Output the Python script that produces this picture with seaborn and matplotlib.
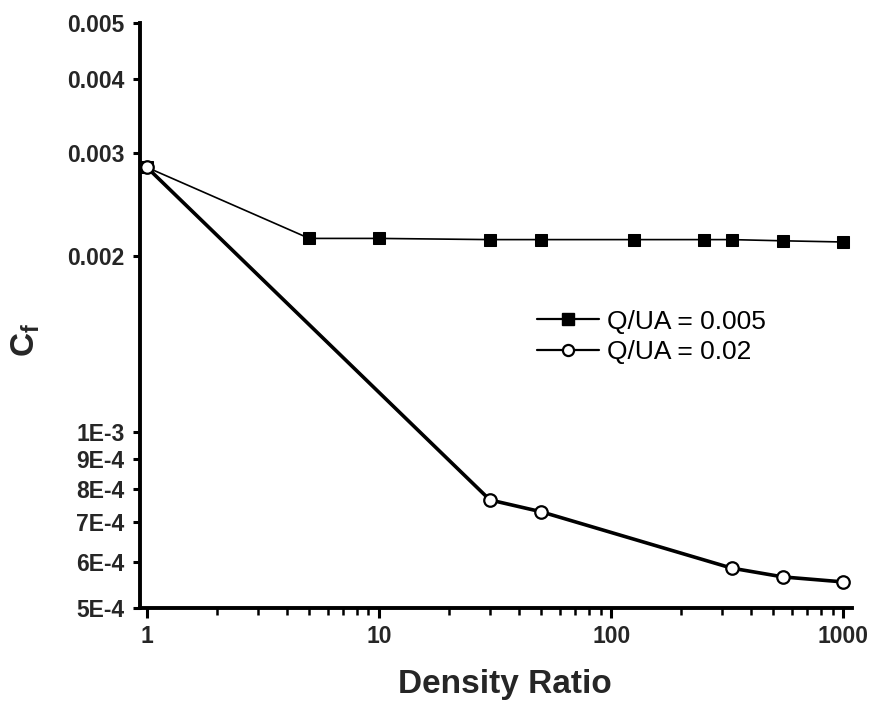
import numpy as np
import pandas as pd
import seaborn as sns
import matplotlib
matplotlib.use("Agg")
import matplotlib.pyplot as plt
from matplotlib.lines import Line2D
from matplotlib.ticker import FixedLocator, FixedFormatter, NullLocator, NullFormatter

# ---- data ----
x_low = [1, 5, 10, 30, 50, 125, 250, 330, 550, 1000]
cf_low = [0.00283, 0.00214, 0.00214, 0.00213, 0.00213, 0.00213, 0.00213, 0.00213, 0.00212, 0.00211]
x_high = [1, 30, 50, 330, 550, 1000]
cf_high = [0.00283, 7.65e-4, 7.3e-4, 5.85e-4, 5.65e-4, 5.54e-4]
series_labels = ["Q/UA = 0.005", "Q/UA = 0.02"]

y_ticks = [5e-4, 6e-4, 7e-4, 8e-4, 9e-4, 1e-3, 2e-3, 3e-3, 4e-3, 5e-3]
y_tick_labels = ["5E-4", "6E-4", "7E-4", "8E-4", "9E-4", "1E-3", "0.002", "0.003", "0.004", "0.005"]
x_ticks = [1, 10, 100, 1000]
x_tick_labels = ["1", "10", "100", "1000"]
x_minor = [m * d for d in (1, 10, 100) for m in range(2, 10)]

sns.set_theme(style="ticks")
plt.rcParams["font.family"] = ["Liberation Sans", "DejaVu Sans"]
plt.rcParams["mathtext.fontset"] = "custom"
plt.rcParams["mathtext.rm"] = "Liberation Sans:bold"
plt.rcParams["mathtext.it"] = "Liberation Sans:bold"
plt.rcParams["mathtext.bf"] = "Liberation Sans:bold"

fig = plt.figure(figsize=(8.74, 7.08), dpi=100)
ax = fig.add_axes([140 / 874, 100 / 708, 712 / 874, 585.3 / 708])

df_low = pd.DataFrame({"x": x_low, "cf": cf_low})
df_high = pd.DataFrame({"x": x_high, "cf": cf_high})

sns.lineplot(data=df_low, x="x", y="cf", ax=ax, color="black", linewidth=1.2,
             marker="s", markersize=8, markerfacecolor="black", markeredgecolor="black",
             sort=False, estimator=None, zorder=3)
sns.lineplot(data=df_high, x="x", y="cf", ax=ax, color="black", linewidth=2.6,
             marker="o", markersize=9, markerfacecolor="white", markeredgecolor="black",
             markeredgewidth=1.6, sort=False, estimator=None, zorder=4)

ax.set_xscale("log")
ax.set_yscale("log")
ax.set_xlim(10 ** (-7 / 232), 1090)
ax.set_ylim(5e-4, 5e-3)

ax.yaxis.set_major_locator(FixedLocator(y_ticks))
ax.yaxis.set_major_formatter(FixedFormatter(y_tick_labels))
ax.yaxis.set_minor_locator(NullLocator())
ax.xaxis.set_major_locator(FixedLocator(x_ticks))
ax.xaxis.set_major_formatter(FixedFormatter(x_tick_labels))
ax.xaxis.set_minor_locator(FixedLocator(x_minor))
ax.xaxis.set_minor_formatter(NullFormatter())

for lab in ax.get_xticklabels() + ax.get_yticklabels():
    lab.set_fontweight("bold")
    lab.set_fontsize(16.5)
ax.tick_params(axis="y", which="major", direction="out", length=5, width=2.2, color="black", pad=6)
ax.tick_params(axis="x", which="major", direction="out", length=7, width=2.2, color="black", pad=5)
ax.tick_params(axis="x", which="minor", direction="out", length=5, width=1.8, color="black")

sns.despine(ax=ax)
for s in ("left", "bottom"):
    ax.spines[s].set_linewidth(2.8)
    ax.spines[s].set_color("black")

ax.set_xlabel("Density Ratio", fontsize=24, fontweight="bold")
ax.set_ylabel(r"$C_f$", fontsize=24)
ax.xaxis.set_label_coords(0.513, -0.105)
ax.yaxis.set_label_coords(-0.137, 0.458)

handles = [
    Line2D([], [], color="black", linewidth=1.6, marker="s", markersize=8,
           markerfacecolor="black", markeredgecolor="black"),
    Line2D([], [], color="black", linewidth=1.6, marker="o", markersize=8,
           markerfacecolor="white", markeredgecolor="black", markeredgewidth=1.6),
]
leg = ax.legend(handles, series_labels, loc="center left", bbox_to_anchor=(0.5576, 0.463),
                frameon=False, fontsize=19, handlelength=2.35, handletextpad=0.3,
                labelspacing=0.26, borderpad=0, borderaxespad=0)
for t in leg.get_texts():
    t.set_color("black")

ax.set_facecolor("white")
fig.patch.set_facecolor("white")
fig.savefig("out.png", dpi=100, facecolor="white")
